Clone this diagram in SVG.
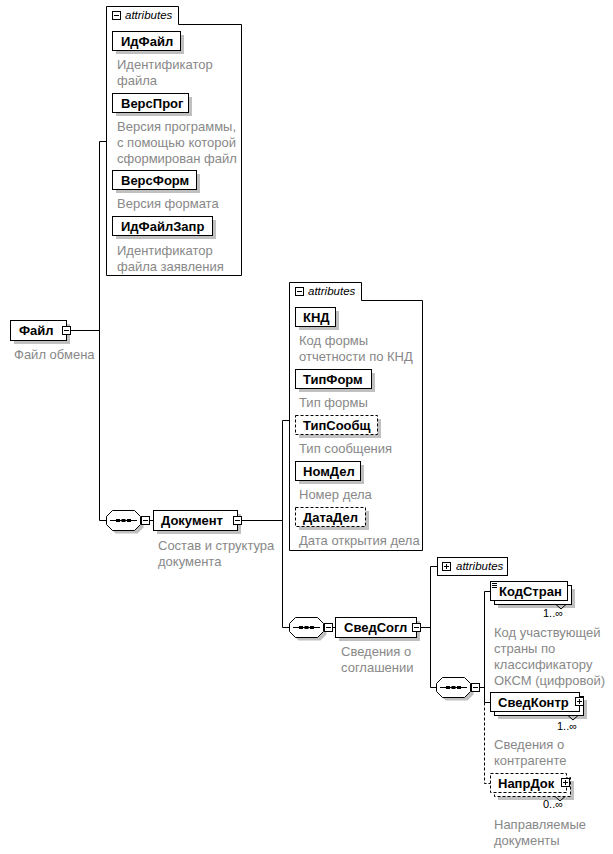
<svg xmlns="http://www.w3.org/2000/svg" width="613" height="854" viewBox="0 0 613 854">
<style>
.bx{fill:#fff;stroke:#000;stroke-width:1}
.bxd{fill:#fff;stroke:#000;stroke-width:1;stroke-dasharray:3,2}
.sh{fill:#c0c0c0}
.nm{font-family:"Liberation Sans",Arial,sans-serif;font-weight:bold;font-size:13px;fill:#000}
.ds{font-family:"Liberation Sans",Arial,sans-serif;font-size:13px;fill:#888}
.at{font-family:"Liberation Sans",Arial,sans-serif;font-style:italic;font-size:11.5px;fill:#000}
.oc{font-family:"Liberation Sans",Arial,sans-serif;font-size:11px;fill:#000}
.ln{fill:none;stroke:#000;stroke-width:1}
.lnd{fill:none;stroke:#000;stroke-width:1;stroke-dasharray:3,2}
</style>
<defs>
<g id="minus"><rect x="0.5" y="0.5" width="8" height="8" fill="#fff" stroke="#000"/><path d="M2 4.5H7" stroke="#000"/></g>
<g id="plus"><rect x="0.5" y="0.5" width="8" height="8" fill="#fff" stroke="#000"/><path d="M2 4.5H7M4.5 2V7" stroke="#000"/></g>
<g id="seq">
<polygon points="9.5,3.5 31.5,3.5 37.5,9.5 37.5,17.5 31.5,23.5 9.5,23.5 3.5,17.5 3.5,9.5" fill="#c0c0c0"/>
<polygon points="6.5,0.5 28.5,0.5 34.5,6.5 34.5,14.5 28.5,20.5 6.5,20.5 0.5,14.5 0.5,6.5" fill="#fff" stroke="#000"/>
<path d="M4 10.5H31" stroke="#000"/>
<rect x="10" y="9" width="4" height="3" fill="#000"/><rect x="15.5" y="9" width="4" height="3" fill="#000"/><rect x="21" y="9" width="4" height="3" fill="#000"/>
</g>
</defs>
<rect width="613" height="854" fill="#fff"/>

<g id="connectors">
<path class="ln" d="M70.5 330.5H99.5M99.5 141.5V520.5M99.5 141.5H106.5M99.5 520.5H106.5"/>
<path class="ln" d="M150 520.5H153.5"/>
<path class="ln" d="M242 520.5H282.5M282.5 420.5V627.5M282.5 420.5H289.5M282.5 627.5H289.5"/>
<path class="ln" d="M333 627.5H335.5"/>
<path class="ln" d="M421 627.5H430.5M430.5 566.5V687.5M430.5 566.5H437.5M430.5 687.5H436.5"/>
<path class="ln" d="M479.5 687.5H484.5M484.5 591.5V702.5M484.5 591.5H490.5M484.5 702.5H490.5"/>
<path class="lnd" d="M484.5 702.5V783.5H490.5"/>
</g>

<g id="node-fail">
<rect class="sh" x="14" y="324" width="56" height="20"/>
<rect class="bx" x="10.5" y="320.5" width="56" height="20"/>
<text class="nm" x="19" y="335">Файл</text>
<use href="#minus" x="62" y="326"/>
<text class="ds" x="14" y="359">Файл обмена</text>
</g>

<g id="attrs-fail">
<path class="bx" d="M106.5 6.5H178.5V24.5H241.5V275.5H106.5Z"/>
<use href="#minus" x="112" y="11"/>
<text class="at" x="125" y="19">attributes</text>
<rect class="sh" x="116" y="35" width="68" height="19"/>
<rect class="bx" x="112.5" y="31.5" width="68" height="19"/>
<text class="nm" x="121" y="45.5">ИдФайл</text>
<text class="ds" x="117" y="69">Идентификатор</text>
<text class="ds" x="117" y="85">файла</text>
<rect class="sh" x="116" y="97" width="76" height="19"/>
<rect class="bx" x="112.5" y="93.5" width="76" height="19"/>
<text class="nm" x="121" y="107.5">ВерсПрог</text>
<text class="ds" x="117" y="131">Версия программы,</text>
<text class="ds" x="117" y="147">с помощью которой</text>
<text class="ds" x="117" y="163">сформирован файл</text>
<rect class="sh" x="116" y="174" width="84" height="19"/>
<rect class="bx" x="112.5" y="170.5" width="84" height="19"/>
<text class="nm" x="121" y="184.5">ВерсФорм</text>
<text class="ds" x="117" y="208">Версия формата</text>
<rect class="sh" x="116" y="220" width="100" height="19"/>
<rect class="bx" x="112.5" y="216.5" width="100" height="19"/>
<text class="nm" x="121" y="230.5">ИдФайлЗапр</text>
<text class="ds" x="117" y="255">Идентификатор</text>
<text class="ds" x="117" y="271">файла заявления</text>
</g>

<g id="seq-1"><use href="#seq" x="106" y="510"/><use href="#minus" x="141" y="516"/></g>

<g id="node-dokument">
<rect class="sh" x="157" y="514" width="84" height="20"/>
<rect class="bx" x="153.5" y="510.5" width="84" height="20"/>
<text class="nm" x="161" y="525">Документ</text>
<use href="#minus" x="233" y="516"/>
<text class="ds" x="158" y="550">Состав и структура</text>
<text class="ds" x="158" y="566">документа</text>
</g>

<g id="attrs-dokument">
<path class="bx" d="M289.5 282.5H361.5V300.5H422.5V550.5H289.5Z"/>
<use href="#minus" x="295" y="287"/>
<text class="at" x="308" y="295">attributes</text>
<rect class="sh" x="299" y="311" width="40" height="19"/>
<rect class="bx" x="295.5" y="307.5" width="40" height="19"/>
<text class="nm" x="303" y="321.5">КНД</text>
<text class="ds" x="299" y="345">Код формы</text>
<text class="ds" x="299" y="361">отчетности по КНД</text>
<rect class="sh" x="299" y="373" width="76" height="19"/>
<rect class="bx" x="295.5" y="369.5" width="76" height="19"/>
<text class="nm" x="303" y="383.5">ТипФорм</text>
<text class="ds" x="299" y="407">Тип формы</text>
<rect class="sh" x="299" y="419" width="82" height="19"/>
<rect class="bxd" x="295.5" y="415.5" width="82" height="19"/>
<text class="nm" x="303" y="429.5">ТипСообщ</text>
<text class="ds" x="299" y="453">Тип сообщения</text>
<rect class="sh" x="299" y="465" width="65" height="19"/>
<rect class="bx" x="295.5" y="461.5" width="65" height="19"/>
<text class="nm" x="303" y="475.5">НомДел</text>
<text class="ds" x="299" y="499">Номер дела</text>
<rect class="sh" x="299" y="511" width="70" height="19"/>
<rect class="bxd" x="295.5" y="507.5" width="70" height="19"/>
<text class="nm" x="303" y="521.5">ДатаДел</text>
<text class="ds" x="299" y="545">Дата открытия дела</text>
</g>

<g id="seq-2"><use href="#seq" x="289" y="617"/><use href="#minus" x="324" y="623"/></g>

<g id="node-svedsogl">
<rect class="sh" x="339" y="621" width="81" height="20"/>
<rect class="bx" x="335.5" y="617.5" width="81" height="20"/>
<text class="nm" x="344" y="632">СведСогл</text>
<use href="#minus" x="412" y="623"/>
<text class="ds" x="341" y="656">Сведения о</text>
<text class="ds" x="341" y="672">соглашении</text>
</g>

<g id="attrs-svedsogl">
<rect class="bx" x="437.5" y="557.5" width="70" height="18"/>
<use href="#plus" x="442" y="562"/>
<text class="at" x="456" y="570">attributes</text>
</g>

<g id="seq-3"><use href="#seq" x="436" y="677"/><use href="#minus" x="471" y="683"/></g>

<g id="node-kodstran">
<rect class="sh" x="498" y="589" width="77" height="19"/>
<rect class="bx" x="494.5" y="585.5" width="77" height="19"/>
<rect class="bx" x="490.5" y="581.5" width="77" height="19"/>
<path class="ln" d="M492 583.5H497M492 585.5H497M492 587.5H497"/>
<text class="nm" x="499" y="596">КодСтран</text>
<path class="ln" d="M556 604.5L561 609L566 604.5"/>
<text class="oc" x="543" y="617">1..∞</text>
<text class="ds" x="494" y="637">Код участвующей</text>
<text class="ds" x="494" y="653">страны по</text>
<text class="ds" x="494" y="669">классификатору</text>
<text class="ds" x="494" y="685">ОКСМ (цифровой)</text>
</g>

<g id="node-svedkontr">
<rect class="sh" x="498" y="700" width="89" height="19"/>
<rect class="bx" x="494.5" y="696.5" width="89" height="19"/>
<rect class="bx" x="490.5" y="692.5" width="89" height="19"/>
<text class="nm" x="498" y="707">СведКонтр</text>
<use href="#plus" x="575" y="697"/>
<path class="ln" d="M568 715.5L573 720L578 715.5"/>
<text class="oc" x="557" y="730">1..∞</text>
<text class="ds" x="494" y="749">Сведения о</text>
<text class="ds" x="494" y="765">контрагенте</text>
</g>

<g id="node-naprdok">
<rect class="sh" x="498" y="781" width="76" height="19"/>
<rect class="bxd" x="494.5" y="777.5" width="76" height="19"/>
<rect class="bxd" x="490.5" y="773.5" width="76" height="19"/>
<text class="nm" x="498" y="788">НапрДок</text>
<use href="#plus" x="561" y="778"/>
<path class="ln" d="M555 796.5L560 801L565 796.5"/>
<text class="oc" x="543" y="808">0..∞</text>
<text class="ds" x="494" y="829">Направляемые</text>
<text class="ds" x="494" y="845">документы</text>
</g>
</svg>
